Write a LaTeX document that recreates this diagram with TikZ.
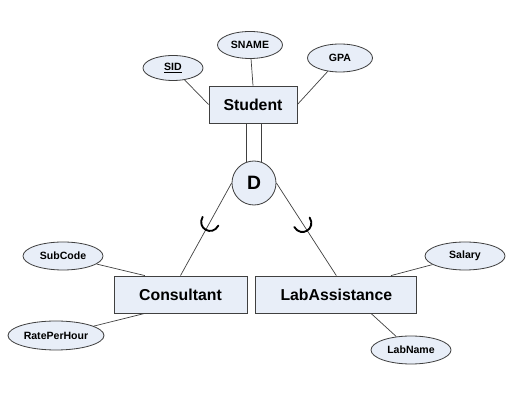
\documentclass[tikz,border=0pt]{standalone}
\usepackage{fontspec}
\setmainfont{Liberation Sans}
\usetikzlibrary{positioning,calc,shapes.geometric}
\definecolor{erfill}{HTML}{E8EEF8}
\definecolor{erline}{HTML}{404040}

\begin{document}
\begin{tikzpicture}[x=.03cm,y=.03cm,node distance=.24cm,
  every node/.style={align=center},
  ent/.style={draw=erline,fill=erfill,line width=.7pt,minimum height=1.11cm,font=\fontsize{13.5}{16}\selectfont\bfseries},
  att/.style={draw=erline,fill=erfill,ellipse,line width=.7pt,inner sep=0pt,minimum height=.84cm,minimum width=2.4cm,font=\fontsize{9}{11}\selectfont\bfseries},
  ln/.style={draw=erline,line width=.6pt}]
\useasboundingbox (0,0) rectangle (512,402);
\node[ent,minimum width=2.64cm] (stu) at (253,297.5) {Student};
\node[att,minimum width=1.8cm,minimum height=.75cm] (sid) at (173,334) {\underline{SID}};
\node[att,minimum width=1.95cm,minimum height=.81cm] (sname) at (250,357) {SNAME};
\node[att,minimum width=1.95cm] (gpa) at (340,344) {GPA};
\node[draw=erline,fill=erfill,line width=.7pt,circle,inner sep=0pt,minimum size=1.32cm,font=\fontsize{16.5}{18}\selectfont\bfseries] (D) at (254,219) {D};
\node[ent,minimum width=3.99cm] (cons) at (180.5,107.5) {Consultant};
\node[ent,minimum width=4.83cm,right=of cons] (lab) {LabAssistance};
\node[att] (subcode) at (63,146) {SubCode};
\node[att,minimum width=2.88cm,minimum height=.87cm] (rate) at (56,66.5) {RatePerHour};
\node[att] (salary) at (465,146) {Salary};
\node[att] (labname) at (411,52) {LabName};
% attributes
\draw[ln] (sid) -- (stu.west);
\draw[ln] (sname) -- (stu.north);
\draw[ln] (gpa) -- (stu.east);
\draw[ln] (subcode) -- ([xshift=-1.07cm]cons.north);
\draw[ln] (rate) -- ([xshift=-1.07cm]cons.south);
\draw[ln] (salary) -- ([xshift=1.64cm]lab.north);
\draw[ln] (labname) -- ([xshift=1.04cm]lab.south);
% total participation and subclass links
\draw[ln] (stu.south -| D.110) -- (D.110);
\draw[ln] (stu.south -| D.70) -- (D.70);
\draw[ln] (D.west) -- coordinate[pos=.47] (cupl) (cons.north);
\draw[ln] (D.east) -- coordinate[pos=.48] (cupr) (lab.north);
\begin{scope}[shift={(cupl)},rotate=241]
\draw[line width=1.6pt,line cap=round] (-6,9) .. controls (7,9) and (7,-9) .. (-6,-9);
\end{scope}
\begin{scope}[shift={(cupr)},rotate=302]
\draw[line width=1.6pt,line cap=round] (-6,9) .. controls (7,9) and (7,-9) .. (-6,-9);
\end{scope}
\end{tikzpicture}
\end{document}
